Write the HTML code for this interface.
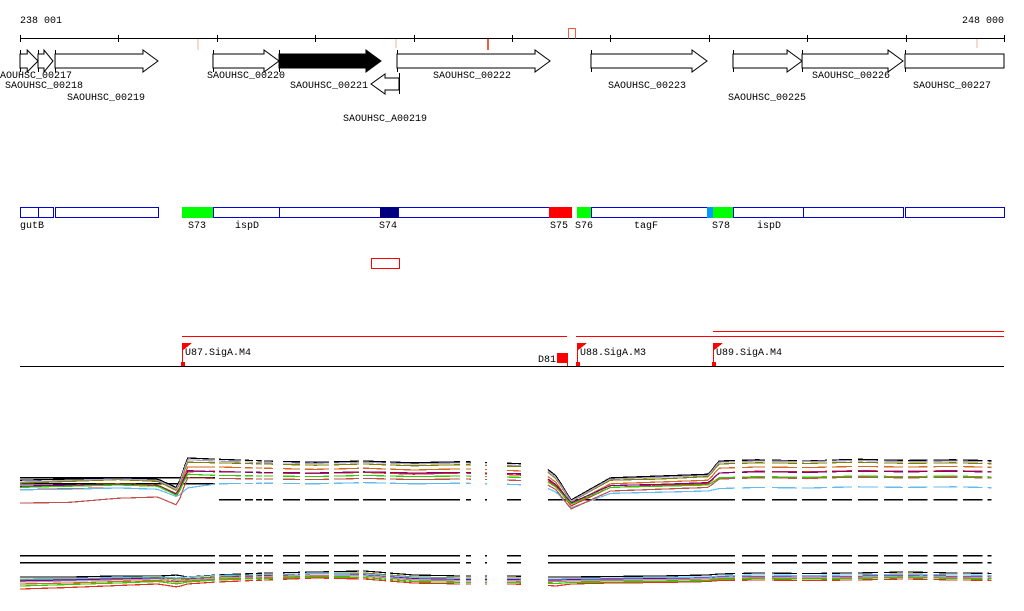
<!DOCTYPE html>
<html><head><meta charset="utf-8"><title>Genome browser</title>
<style>
html,body{margin:0;padding:0;background:#fff;width:1024px;height:611px;overflow:hidden}
svg{display:block}
text{font-family:"Liberation Mono",monospace;font-size:10px;fill:#000}
</style></head>
<body>
<svg id="chart" width="1024" height="611" viewBox="0 0 1024 611" shape-rendering="crispEdges">
<text x="20" y="23">238 001</text>
<text x="1004" y="23" text-anchor="end">248 000</text>
</svg>
<script>
// ---- data ----
const START = 238001, END = 248000;
const tickPositions = [238001,239001,240001,241001,242001,243001,244001,245001,246001,247001,248000];
const geneNames = ["SAOUHSC_00217","SAOUHSC_00218","SAOUHSC_00219","SAOUHSC_00220","SAOUHSC_00221","SAOUHSC_00222","SAOUHSC_00223","SAOUHSC_00225","SAOUHSC_00226","SAOUHSC_00227","SAOUHSC_A00219"];
const geneStarts = [238001,238184,238357,239962,240633,241832,243803,245246,245948,246994,241568];
const geneEnds   = [238184,238336,239403,240633,241669,243387,244982,245948,246974,248000,241852];
const geneStrand = [1,1,1,1,1,1,1,1,1,1,-1];
const geneHighlight = [0,0,0,0,1,0,0,0,0,0,0];
const segLabels = ["gutB","","","S73","ispD","","S74","","S75","S76","tagF","","S78","ispD","",""];
const segStarts = [238001,238184,238357,239647,239962,240633,241659,241842,243377,243661,243803,244982,245043,245246,245957,246994];
const segEnds   = [238184,238336,239403,239962,240633,241659,241842,243377,243600,243803,244982,245043,245246,245957,246974,248000];
const segFill = ["#fff","#fff","#fff","#00ff00","#fff","#fff","#000080","#fff","#ff0000","#00ff00","#fff","#0099ff","#00ff00","#fff","#fff","#fff"];
const promoterNames = ["U87.SigA.M4","U88.SigA.M3","U89.SigA.M4"];
const promoterPos = [239647,243661,245043];
const exprSegStarts = [238001,240023,240287,240399,240480,240673,240897,241191,241486,241760,242532,242725,242949,243365,245336,245641,245946,246251,246515,246779,247022,247286,247581,247834];
const exprSegEnds   = [239982,240246,240368,240460,240571,240846,241140,241445,241720,242471,242583,242745,243091,245265,245570,245895,246200,246454,246718,246972,247225,247530,247784,247875];
const knotPositions = [238001,238500,239000,239400,239600,239700,240000,240500,241000,241500,242000,242500,243000,243300,243450,243600,244000,244500,245000,245100,245500,246000,246500,247000,247500,248000];
const topColors = ["#000000","#808000","#d2691e","#e03020","#800080","#33cc00","#66bbee","#c0504d","#a8a0c8"];
const topSeries = [
 [5.8,6.0,6.2,6.0,4.5,9.5,9.3,9.0,8.8,9.0,8.7,8.9,8.6,8.4,6.5,2.5,6.2,6.5,6.8,9.0,9.2,9.0,9.3,9.1,9.2,9.0],
 [5.3,5.6,5.9,5.6,4.0,8.8,8.7,8.5,8.3,8.5,8.2,8.4,8.1,8.0,6.0,2.2,5.8,6.0,6.4,8.5,8.7,8.6,8.8,8.6,8.7,8.5],
 [4.8,5.0,5.2,5.0,3.5,8.0,8.0,7.8,7.6,7.8,7.5,7.7,7.4,7.2,5.4,1.8,5.2,5.5,5.8,7.8,8.0,7.9,8.1,8.0,8.1,7.9],
 [4.2,4.4,4.5,4.3,3.0,7.2,7.3,7.0,6.9,7.1,6.8,7.0,6.7,6.5,4.8,1.5,4.6,4.9,5.2,7.0,7.3,7.2,7.4,7.3,7.4,7.2],
 [4.8,5.0,5.1,4.9,3.4,7.4,7.2,7.1,7.0,7.2,7.0,7.1,6.9,6.8,5.0,2.0,4.9,5.1,5.4,7.0,7.2,7.1,7.3,7.2,7.3,7.1],
 [4.6,4.8,5.0,4.8,3.2,6.8,6.6,6.5,6.4,6.6,6.4,6.5,6.3,6.2,4.6,1.8,4.6,4.8,5.0,6.2,6.4,6.3,6.5,6.4,6.5,6.3],
 [4.2,4.3,4.5,4.3,3.0,4.5,5.2,5.3,5.2,5.4,5.2,5.3,5.1,4.9,3.8,1.2,3.6,3.8,4.0,4.4,4.6,4.5,4.7,4.6,4.7,4.5],
 [2.0,2.1,2.8,3.0,1.6,6.2,6.1,6.0,5.9,6.1,5.9,6.0,5.8,5.6,4.2,1.0,4.0,4.3,4.6,6.0,6.2,6.1,6.3,6.2,6.3,6.1],
 [5.5,5.8,6.0,5.8,4.2,9.2,9.0,8.7,8.6,8.8,8.5,8.7,8.3,8.1,6.2,2.3,6.0,6.3,6.6,8.8,9.0,8.9,9.1,8.9,9.0,8.8]
];
const bottomColors = ["#000000","#808000","#d2691e","#e03020","#800080","#33cc00","#66bbee","#a8a0c8"];
const bottomSeries = [
 [4.6,4.6,4.8,4.8,5.0,4.6,5.0,5.4,5.6,5.8,5.0,4.8,4.8,4.6,4.6,4.6,4.7,4.8,5.0,5.2,5.4,5.3,5.4,5.6,5.4,5.3],
 [4.0,4.2,4.4,4.5,4.2,4.3,4.6,5.0,5.3,5.4,4.6,4.4,4.4,4.2,4.2,4.3,4.4,4.5,4.6,4.8,5.0,4.9,5.0,5.2,5.0,4.9],
 [3.2,3.4,3.7,3.9,3.6,3.8,4.2,4.5,4.8,4.8,4.0,3.8,3.8,3.6,3.7,3.8,3.9,4.0,4.2,4.3,4.5,4.4,4.5,4.7,4.5,4.4],
 [2.2,2.5,2.9,3.2,2.6,3.2,3.6,4.0,4.4,4.2,3.4,3.2,3.2,3.0,2.8,3.2,3.4,3.5,3.7,3.9,4.0,3.9,4.0,4.2,4.0,3.9],
 [3.8,4.0,4.2,4.3,3.8,4.1,4.4,4.8,5.0,5.0,4.3,4.1,4.1,4.0,4.0,4.1,4.2,4.3,4.4,4.6,4.7,4.6,4.7,4.9,4.7,4.6],
 [2.8,3.1,3.4,3.7,3.2,3.6,4.0,4.3,4.6,4.5,3.7,3.5,3.5,3.4,3.3,3.5,3.6,3.7,3.9,4.1,4.3,4.2,4.3,4.5,4.3,4.2],
 [4.2,4.3,4.5,4.7,4.4,4.6,4.9,5.1,5.3,5.2,4.5,4.3,4.3,4.2,4.2,4.3,4.4,4.5,4.6,4.8,5.0,4.9,5.0,5.1,5.0,4.9],
 [3.6,3.8,4.0,4.2,3.9,4.0,4.4,4.7,5.0,4.9,4.1,3.9,3.9,3.8,3.8,3.9,4.0,4.1,4.3,4.5,4.6,4.5,4.6,4.8,4.6,4.5]
];
// ---- scales ----
const X0=20, X1=1004;
function sx(bp){return X0+(bp-START)*(X1-X0)/(END-START);}
function syTop(v){return 515-v*6;}
function syBot(v){return 600-v*5;}
const NS="http://www.w3.org/2000/svg";
const svg=document.getElementById('chart');
function mk(tag,attrs,parent){const e=document.createElementNS(NS,tag);for(const k in attrs)e.setAttribute(k,attrs[k]);(parent||svg).appendChild(e);return e;}

// ruler
let g=mk('g',{});


mk('line',{x1:X0,y1:38.5,x2:X1,y2:38.5,stroke:'#000'},g);
tickPositions.forEach(p=>{const t=mk('line',{x1:Math.round(sx(p))+.5,y1:35,x2:Math.round(sx(p))+.5,y2:42,stroke:'#000'},g);

});
mk('rect',{x:197,y:39,width:2,height:11,fill:'#f8d8d0'},g);
mk('rect',{x:395,y:39,width:2,height:9,fill:'#f8d8d0'},g);
mk('rect',{x:976,y:39,width:2,height:9,fill:'#f8d8d0'},g);
mk('rect',{x:487,y:39,width:2,height:11,fill:'#f06040'},g);
mk('path',{d:'M568.5 38.5 V28.5 H575.5 V38.5',fill:'none',stroke:'#f06040'},g);

// genes
const labelPos=[[-6,78],[5,88],[67,100],[207,78],[290,88],[433,78],[608,88],[728,100],[812,78],[913,88],[343,121]];
geneNames.forEach((n,i)=>{
  const a=sx(geneStarts[i]), b=sx(geneEnds[i]);
  const gg=mk('g',{});
  
  
  const fill=geneHighlight[i]?'#000':'#fff';
  let d;
  if(geneStrand[i]>0){
    const yc=61, hw=7, hh=11, head=Math.min(15,(b-a)*0.6);
    if(i===9){d=`M${a} ${yc-hw} H${b} V${yc+hw} H${a} Z`;}
    else d=`M${a} ${yc-hw} H${b-head} V${yc-hh} L${b} ${yc} L${b-head} ${yc+hh} V${yc+hw} H${a} Z`;
    mk('line',{x1:a+.5,y1:50,x2:a+.5,y2:72,stroke:'#000'},gg);
  } else {
    const yc=84, hw=6, hh=10, head=14;
    d=`M${b} ${yc-hw} H${a+head} V${yc-hh} L${a} ${yc} L${a+head} ${yc+hh} V${yc+hw} H${b} Z`;
    mk('line',{x1:b+.5,y1:73,x2:b+.5,y2:94,stroke:'#000'},gg);
  }
  mk('path',{d:d,fill:fill,stroke:'#000','shape-rendering':'auto'},gg);
  const t=mk('text',{x:labelPos[i][0],y:labelPos[i][1]},gg); t.textContent=n;
});

// segments
const sLabX=[20,0,0,188,235,0,379,0,550,575,634,0,712,757];
segStarts.forEach((s,i)=>{
  const a=Math.round(sx(s)), b=Math.round(sx(segEnds[i]));
  const r=mk('rect',{x:a+.5,y:207.5,width:b-a,height:10,fill:segFill[i],stroke:segFill[i]==='#fff'?'#0000dd':segFill[i]});
  
  
  if(segLabels[i]){const t=mk('text',{x:(sLabX[i]||a+2),y:228});t.textContent=segLabels[i];
    
    }
});
const rb=mk('rect',{x:371.5,y:258.5,width:28,height:10,fill:'none',stroke:'#ff0000'});



// promoter track
let pg=mk('g',{});


mk('line',{x1:182,y1:336.5,x2:567,y2:336.5,stroke:'#ff0000'},pg);
mk('line',{x1:576,y1:336.5,x2:1004,y2:336.5,stroke:'#ff0000'},pg);
mk('line',{x1:713,y1:331.5,x2:1004,y2:331.5,stroke:'#ff0000'},pg);
mk('line',{x1:X0,y1:366.5,x2:X1,y2:366.5,stroke:'#000'},pg);
promoterNames.forEach((n,i)=>{
  const x=Math.round(sx(promoterPos[i]));
  const f=mk('g',{},pg);
  
  
  mk('line',{x1:x+.5,y1:343,x2:x+.5,y2:366,stroke:'#ff0000'},f);
  mk('path',{d:`M${x} 343 H${x+10} L${x} 351 Z`,fill:'#ff0000'},f);
  mk('rect',{x:x-1,y:362,width:4,height:4,fill:'#ff0000'},f);
  const t=mk('text',{x:x+3,y:355},f); t.textContent=n;
});
mk('rect',{x:557,y:353,width:10,height:10,fill:'#ff0000'},pg);
mk('line',{x1:567.5,y1:353,x2:567.5,y2:366,stroke:'#ff0000'},pg);
const dt=mk('text',{x:538,y:362},pg); dt.textContent='D81';

// expression panels
function valAt(series,bp){
  for(let k=0;k<knotPositions.length-1;k++){
    if(bp<=knotPositions[k+1]){const t=(bp-knotPositions[k])/(knotPositions[k+1]-knotPositions[k]);return series[k]+(series[k+1]-series[k])*t;}
  }
  return series[series.length-1];
}
function drawPanel(seriesArr,colors,sy,name,refLines){
  const pgp=mk('g',{});
  
  
  refLines.forEach(rl=>{
    exprSegStarts.forEach((s,j)=>{
      if(rl.maxBp && s>rl.maxBp) return;
      if(rl.minBp && s<rl.minBp) return;
      mk('line',{x1:sx(s),y1:rl.y+.5,x2:sx(exprSegEnds[j]),y2:rl.y+.5,stroke:'#000','stroke-width':1.5},pgp);
    });
  });
  seriesArr.forEach((ser,i)=>{
    exprSegStarts.forEach((s,j)=>{
      const e=exprSegEnds[j]; let pts=[];
      const n=Math.max(2,Math.ceil((e-s)/40));
      for(let q=0;q<=n;q++){const bp=s+(e-s)*q/n;pts.push(sx(bp).toFixed(1)+','+sy(valAt(ser,bp)).toFixed(1));}
      const p=mk('polyline',{points:pts.join(' '),fill:'none',stroke:colors[i],'stroke-width':1.2,'stroke-linejoin':'round'},pgp);
      
      
    });
  });
}
drawPanel(topSeries,topColors,syTop,'expression-panel-top',[{y:477,maxBp:239982},{y:483,maxBp:239982},{y:499,minBp:240000}]);
drawPanel(bottomSeries,bottomColors,syBot,'expression-panel-bottom',[{y:555},{y:562}]);
</script>
</body></html>
